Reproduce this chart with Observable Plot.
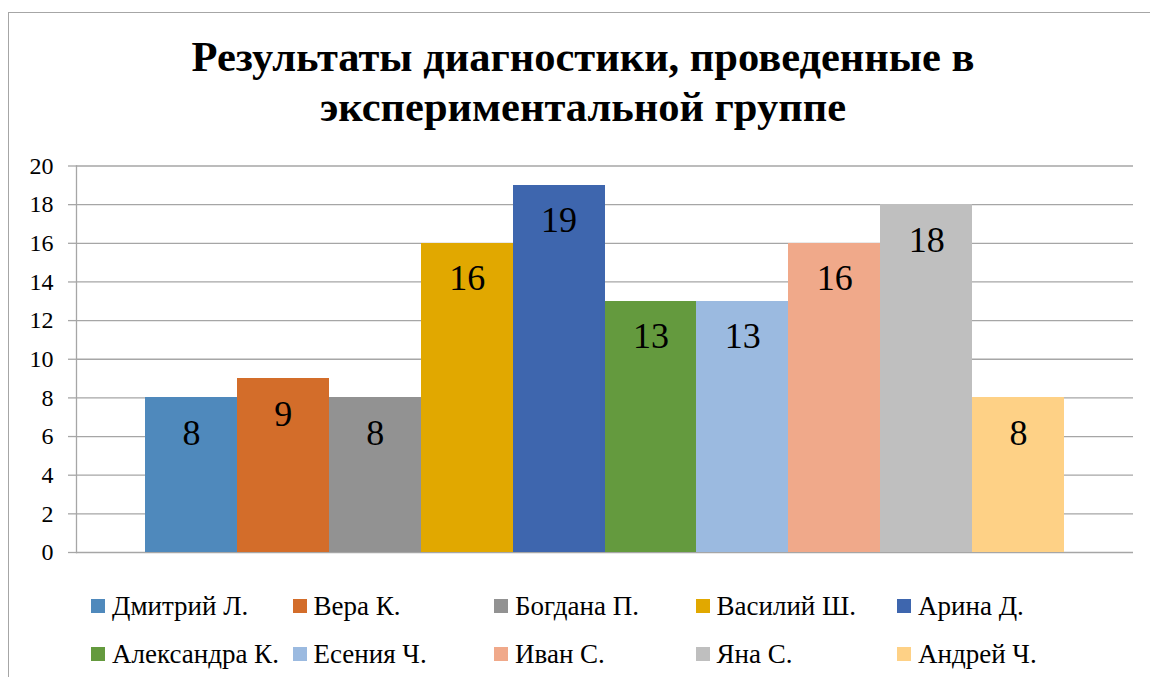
<!DOCTYPE html>
<html><head><meta charset="utf-8">
<script src="https://cdn.jsdelivr.net/npm/d3@7"></script>
<script src="https://cdn.jsdelivr.net/npm/@observablehq/plot@0.6"></script>
<style>
body{margin:0;background:#fff;overflow:hidden;font-family:'Liberation Serif',serif;}
#wrap{position:relative;width:1150px;height:677px;overflow:hidden;background:#fff;font-family:'Liberation Serif',serif;color:#000;}
#frame{position:absolute;left:8px;top:12px;width:1200px;height:720px;border:1.5px solid #a6a6a6;box-sizing:border-box;}
#title{position:absolute;left:9px;width:1148px;top:32px;text-align:center;font-weight:bold;font-size:42.5px;line-height:50px;}
#chart{position:absolute;left:0;top:150px;}
#legend{position:absolute;left:91px;top:582px;width:1010px;display:flex;flex-wrap:wrap;}
.item{width:201.5px;height:48px;display:flex;align-items:center;font-size:27px;white-space:nowrap;}
.sw{width:14px;height:14px;margin-right:7px;flex:none;}
</style>
</head><body>
<div id="wrap">
  <div id="frame"></div>
  <div id="title">Результаты диагностики, проведенные в<br>экспериментальной группе</div>
  <div id="chart"></div>
  <div id="legend"></div>
</div>
<script>
const names = ["Дмитрий Л.", "Вера К.", "Богдана П.", "Василий Ш.", "Арина Д.", "Александра К.", "Есения Ч.", "Иван С.", "Яна С.", "Андрей Ч."];
const scores = [8, 9, 8, 16, 19, 13, 13, 16, 18, 8];
const colors = ["#4f89bc", "#d36d2a", "#929292", "#e1a800", "#3e66ae", "#649a3e", "#9bbae0", "#f0a98a", "#bfbfbf", "#fed186"];
const yTicks = [0, 2, 4, 6, 8, 10, 12, 14, 16, 18, 20];

const data = names.map((n, i) => ({name: n, score: scores[i]}));
const serif = "Liberation Serif";

const chart = Plot.plot({
  width: 1150,
  height: 412,
  marginLeft: 76,
  marginRight: 17,
  marginTop: 15.5,
  marginBottom: 10,
  style: {fontFamily: serif, background: "transparent", overflow: "visible", color: "#000"},
  x: {domain: names, paddingInner: 0, paddingOuter: 0.75, round: false, axis: null},
  y: {domain: [0, 20], axis: null},
  color: {domain: names, range: colors},
  marks: [
    Plot.ruleY(yTicks, {stroke: "#a6a6a6", strokeWidth: 1.3}),
    Plot.axisY({ticks: yTicks, tickSize: 8, tickFormat: () => "", stroke: "#a6a6a6", strokeWidth: 1.3, label: null}),
    Plot.text(yTicks, {y: d => d, text: d => String(d), frameAnchor: "left", textAnchor: "end", dx: -23, fontSize: 24, fill: "#000", fontFamily: serif}),
    Plot.frame({anchor: "left", stroke: "#a6a6a6", strokeWidth: 1.3}),
    Plot.barY(data, {x: "name", y: "score", fill: "name", shapeRendering: "crispEdges"}),
    Plot.text(data, {x: "name", y: "score", text: d => String(d.score), lineAnchor: "bottom", dy: 47, fontSize: 36, fill: "#000", fontFamily: serif})
  ]
});
document.getElementById("chart").appendChild(chart);

const color = chart.scale("color");
const leg = d3.select("#legend");
const items = leg.selectAll("div.item").data(names).join("div").attr("class", "item");
items.append("div").attr("class", "sw").style("background", d => color.apply(d));
items.append("span").text(d => d);
</script>
</body></html>
